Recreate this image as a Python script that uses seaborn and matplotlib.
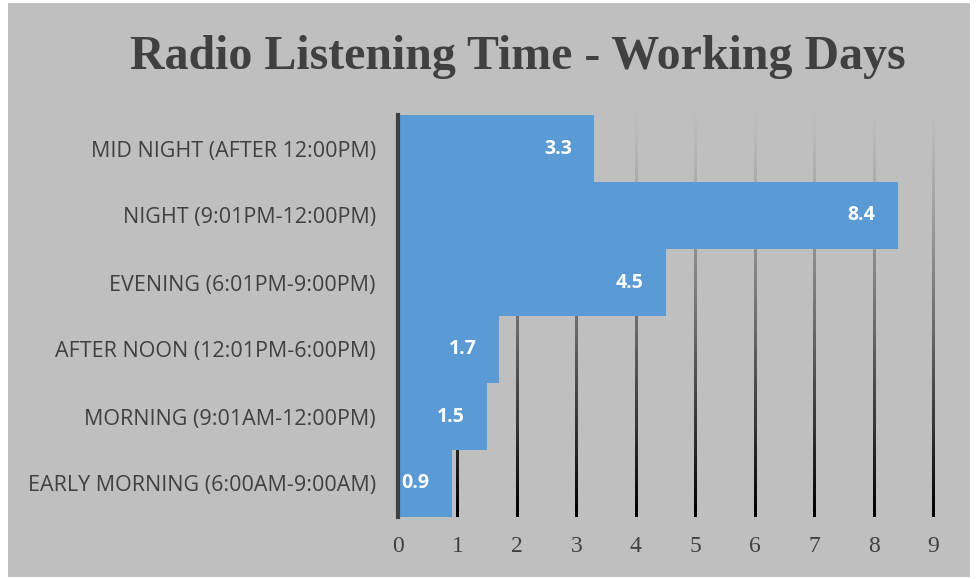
import numpy as np
import pandas as pd
import seaborn as sns
import matplotlib.pyplot as plt
from matplotlib.patches import Rectangle
from matplotlib.collections import LineCollection

# data, top to bottom as in the chart
periods = ["MID NIGHT (AFTER 12:00PM)", "NIGHT (9:01PM-12:00PM)", "EVENING (6:01PM-9:00PM)",
           "AFTER NOON (12:01PM-6:00PM)", "MORNING (9:01AM-12:00PM)", "EARLY MORNING (6:00AM-9:00AM)"]
hours = [3.3, 8.4, 4.5, 1.7, 1.5, 0.9]
xticks = list(range(0, 10))

df = pd.DataFrame({"period": periods, "hours": hours})

bg = "#bfbfbf"
txt = "#404040"
bar_col = "#5b9bd5"

sns.set_style("white")
fig = plt.figure(figsize=(9.79, 5.79), dpi=100)
fig.patch.set_facecolor("white")
# gray chart area with thin white margin
fig.patches.append(Rectangle((8 / 979, 2 / 579), 962 / 979, 574 / 579, transform=fig.transFigure,
                             facecolor=bg, edgecolor="none", zorder=-10))

ax = fig.add_axes([398 / 979, 1 - 517 / 579, 571 / 979, 402 / 579])
ax.set_facecolor("none")

sns.barplot(data=df, x="hours", y="period", orient="h", color=bar_col, width=1.0,
            saturation=1, linewidth=0, ax=ax, zorder=2)

ax.set_xlim(0, 9.6)
ax.set_ylim(len(periods) - 0.5, -0.5)

# gradient vertical gridlines (light at top, black at bottom)
n = 80
edges = np.linspace(-0.5, len(periods) - 0.5, n + 1)
for xv in xticks[1:]:
    segs = [[(xv, edges[i]), (xv, edges[i + 1])] for i in range(n)]
    cols = [plt.cm.gray_r(0.26 + 0.74 * (i / (n - 1)) ** 1.3) for i in range(n)]
    lc = LineCollection(segs, colors=cols, linewidths=2, capstyle="projecting",
                        antialiaseds=False, zorder=0)
    ax.add_collection(lc)

# value labels, inside end
for i, v in enumerate(hours):
    ax.text(v - 0.37, i, f"{v:.1f}", ha="right", va="center", color="white",
            fontsize=14, fontweight="bold", family="Open Sans", zorder=3)

for s in ["top", "right", "bottom"]:
    ax.spines[s].set_visible(False)
ax.spines["left"].set_color(txt)
ax.spines["left"].set_linewidth(3)
ax.spines["left"].set_zorder(4)

ax.set_xticks(xticks)
ax.set_xticklabels([str(t) for t in xticks], family="Liberation Serif", fontsize=17, color=txt)
ax.tick_params(axis="x", length=0, pad=14)
ax.tick_params(axis="y", length=0, pad=16)
for lab in ax.get_yticklabels():
    lab.set_family("Open Sans")
    lab.set_fontsize(15.5)
    lab.set_color(txt)
ax.set_xlabel("")
ax.set_ylabel("")

fig.text(517.5 / 979, 1 - 57 / 579, "Radio Listening Time - Working Days", ha="center", va="center",
         family="Liberation Serif", fontweight="bold", fontsize=34.5, color=txt)

fig.savefig("out.png", dpi=100, facecolor="white")
